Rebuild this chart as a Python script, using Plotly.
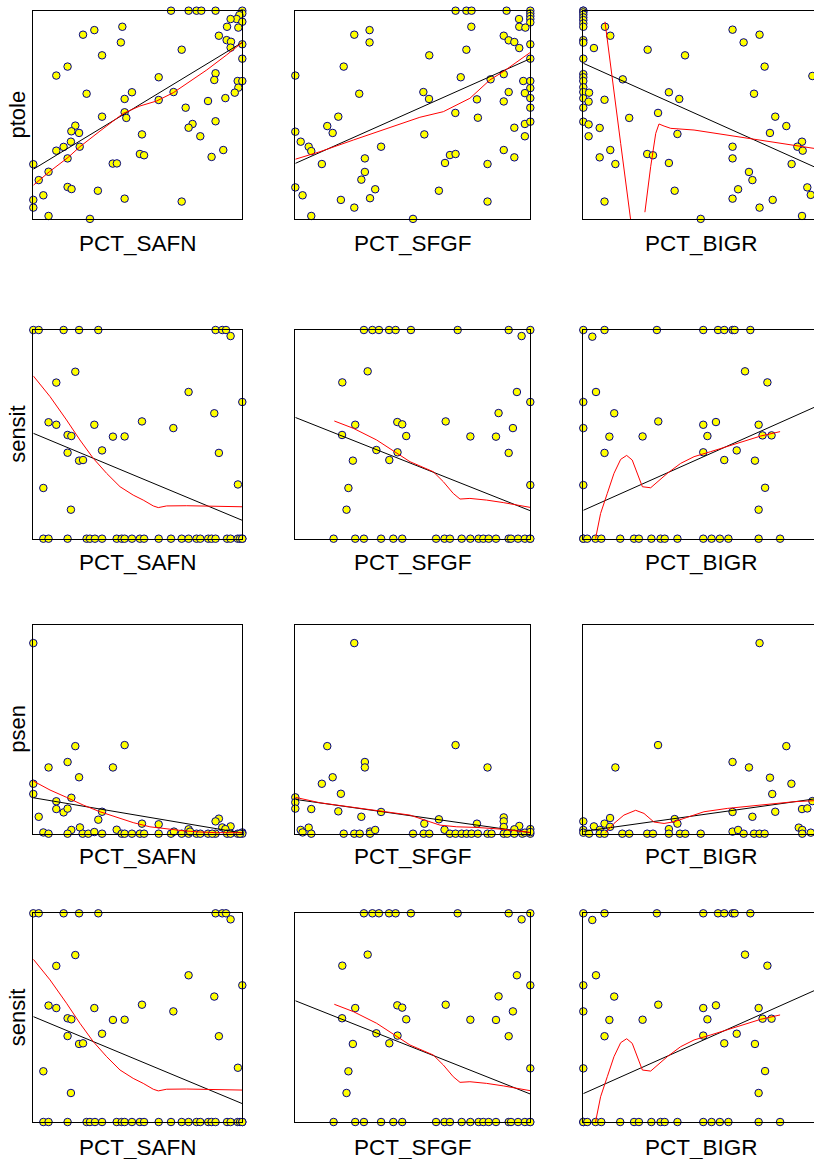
import plotly.graph_objects as go

# ---------------- data (x in percent 0-100, y as proportion 0-1) ----------------
# Row 1: ptole
ptole_safn_x = [65.9, 74.3, 78.1, 80.4, 87.2, 100, 100, 98.6, 97.3, 94.4, 100, 98.1, 92.7, 88.8, 92.5, 94.6, 94.4, 100, 100,
                42.6, 29.2, 23.8, 41.9, 71.0, 32.9, 16.4, 11.0, 60.0, 87.2, 86.6, 97.8, 100, 98.1, 96.4, 91.9, 83.6, 67.1,
                60.0, 47.2, 43.7, 25.5, 72.9, 43.7, 44.5, 32.9, 87.2, 76.2, 74.3, 79.9, 52.0, 20.1, 18.2, 21.9, 18.0, 14.5,
                11.0, 22.2, 16.4, 51.0, 53.0, 85.3, 90.9, 0, 7.3, 2.6, 38.0, 40.0, 16.4, 18.3, 30.9, 4.8, 43.7, 71.0, 0, 0,
                7.3, 27.1]
ptole_safn_y = [1.0, 1.0, 1.0, 1.0, 1.0, 1.0, 0.987, 0.979, 0.960, 0.960, 0.947, 0.919, 0.923, 0.880, 0.859, 0.851, 0.823, 0.839, 0.770,
                0.923, 0.907, 0.885, 0.848, 0.813, 0.786, 0.732, 0.689, 0.681, 0.700, 0.668, 0.663, 0.663, 0.631, 0.607, 0.581,
                0.567, 0.610, 0.572, 0.609, 0.577, 0.602, 0.535, 0.513, 0.486, 0.492, 0.470, 0.457, 0.439, 0.398, 0.407, 0.449,
                0.422, 0.414, 0.372, 0.347, 0.329, 0.348, 0.292, 0.313, 0.307, 0.299, 0.332, 0.264, 0.228, 0.188, 0.267, 0.268,
                0.155, 0.145, 0.137, 0.115, 0.099, 0.085, 0.093, 0.056, 0.016, 0.002]
ptole_safn_fit_x = [0, 100]
ptole_safn_fit_y = [0.240, 0.848]
ptole_safn_smooth_x = [0, 7.7, 16.7, 22.3, 31.9, 43.1, 51.0, 59.0, 67.0, 73.4, 83.0, 92.5, 100]
ptole_safn_smooth_y = [0.163, 0.228, 0.297, 0.348, 0.423, 0.508, 0.543, 0.567, 0.607, 0.652, 0.716, 0.788, 0.848]

ptole_sfgf_x = [68.2, 72.8, 75.0, 89.9, 100, 100, 100, 100, 100, 95.2, 95.3, 97.9, 74.9, 31.6, 25.1, 31.6, 88.7, 90.8, 93.2,
                95.3, 100, 100, 72.8, 57.0, 20.6, 0, 70.4, 83.1, 88.7, 97.0, 100, 100, 97.7, 90.8, 100, 88.7, 77.3, 100,
                54.5, 56.9, 27.2, 68.1, 77.7, 97.7, 100, 93.2, 97.7, 18.3, 13.6, 15.9, 0, 2.3, 5.7, 6.8, 54.9, 36.5, 88.7,
                93.2, 65.8, 68.2, 63.7, 81.8, 11.3, 29.6, 29.6, 28.1, 0, 3.1, 34.0, 31.8, 19.4, 25.1, 61.1, 81.8, 6.8, 50.1]
ptole_sfgf_y = [1.0, 1.0, 1.0, 1.0, 1.0, 0.987, 0.974, 0.960, 0.944, 0.960, 0.923, 0.919, 0.923, 0.907, 0.885, 0.848, 0.880, 0.858,
                0.850, 0.821, 0.839, 0.770, 0.813, 0.786, 0.732, 0.689, 0.681, 0.671, 0.696, 0.663, 0.663, 0.629, 0.605, 0.610,
                0.581, 0.565, 0.575, 0.535, 0.610, 0.577, 0.602, 0.510, 0.487, 0.457, 0.468, 0.439, 0.398, 0.492, 0.447, 0.414,
                0.420, 0.372, 0.348, 0.327, 0.407, 0.348, 0.332, 0.297, 0.308, 0.313, 0.270, 0.265, 0.265, 0.292, 0.227, 0.190,
                0.153, 0.115, 0.144, 0.101, 0.093, 0.056, 0.137, 0.085, 0.016, 0.002]
ptole_sfgf_fit_x = [0, 100]
ptole_sfgf_fit_y = [0.268, 0.770]
ptole_sfgf_smooth_x = [0, 10.5, 24.7, 38.9, 53.0, 63.0, 68.7, 74.3, 82.8, 88.5, 100]
ptole_sfgf_smooth_y = [0.288, 0.324, 0.380, 0.436, 0.489, 0.516, 0.548, 0.580, 0.668, 0.708, 0.800]

ptole_bigr_x = [0] * 19 + [2.5, 2.3, 2.3, 2.3, 4.6, 9.4, 11.7, 17.1, 9.2, 7.1, 19.9, 11.7, 7.1, 13.9, 9.2, 27.9, 44.1, 37.1,
                           41.6, 32.4, 40.8, 27.7, 30.2, 37.1, 39.6, 50.9, 64.7, 69.5, 76.4, 78.6, 74.0, 83.2, 88.0, 80.9,
                           64.7, 64.7, 94.8, 92.8, 95.1, 90.3, 71.8, 73.3, 67.1, 64.7, 76.4, 82.1, 94.8, 97.1, 98.6, 99.3]
ptole_bigr_y = [1.0, 1.0, 0.992, 0.981, 0.968, 0.955, 0.939, 0.923, 0.859, 0.847, 0.770, 0.696, 0.681, 0.663, 0.633, 0.610,
                0.580, 0.535, 0.468,
                0.607, 0.564, 0.455, 0.398, 0.821, 0.923, 0.880, 0.671, 0.573, 0.438, 0.486, 0.332, 0.297, 0.265, 0.085,
                0.813, 0.786, 0.609, 0.577, 0.510, 0.409, 0.313, 0.307, 0.270, 0.137, 0.002, 0.909, 0.848, 0.885, 0.732,
                0.602, 0.492, 0.447, 0.414, 0.348, 0.292, 0.372, 0.348, 0.329, 0.265, 0.227, 0.188, 0.144, 0.099, 0.056,
                0.093, 0.016, 0.153, 0.117, 0.687]
ptole_bigr_fit_x = [0, 100]
ptole_bigr_fit_y = [0.748, 0.252]
ptole_bigr_smooth_x = [9.4, 11.8, 16.2, 20.5, 22.0, None, 26.7, 29.2, 31.4, 32.8, 35.0, 37.9, 48.0, 62.4, 76.9, 92.8, 100]
ptole_bigr_smooth_y = [0.947, 0.732, 0.364, 0.0, -0.195, None, 0.034, 0.252, 0.412, 0.457, 0.447, 0.436, 0.428, 0.404,
                       0.380, 0.351, 0.340]

# Row 2 / Row 4: sensit
sensit_safn_x = [0, 2.6, 14.5, 21.9, 31.1, 87.2, 90.4, 92.2, 94.4,
                 4.8, 7.3, 16.4, 25.5, 27.1, 29.5, 32.9, 39.9, 42.3, 43.7, 47.2, 51.0, 53.0, 60.0, 65.9, 71.0, 74.3,
                 78.1, 79.9, 83.7, 85.3, 87.2, 92.7, 94.4, 97.8, 98.9, 100, 100,
                 20.1, 11.0, 74.3, 100, 86.6, 7.3, 11.0, 29.2, 52.0, 67.0, 16.4, 18.2, 38.1, 43.7, 16.4, 32.9, 88.8,
                 21.9, 23.8, 4.8, 97.9, 18.0]
sensit_safn_y = [1.0, 1.0, 1.0, 1.0, 1.0, 1.0, 1.0, 1.0, 0.971,
                 0, 0, 0, 0, 0, 0, 0, 0, 0, 0, 0, 0, 0, 0, 0, 0, 0, 0, 0, 0, 0, 0, 0, 0, 0, 0, 0, 0,
                 0.800, 0.748, 0.703, 0.655, 0.601, 0.558, 0.546, 0.546, 0.562, 0.530, 0.497, 0.492, 0.489, 0.490,
                 0.412, 0.423, 0.411, 0.374, 0.377, 0.243, 0.260, 0.139]
sensit_safn_fit_x = [0, 100]
sensit_safn_fit_y = [0.505, 0.088]
sensit_safn_smooth_x = [0, 8.0, 15.9, 22.3, 28.7, 35.1, 41.5, 47.8, 52.6, 57.4, 59.8, 63.8, 73.4, 86.1, 100]
sensit_safn_smooth_y = [0.780, 0.681, 0.569, 0.473, 0.385, 0.313, 0.249, 0.209, 0.185, 0.157, 0.149, 0.157, 0.158,
                        0.157, 0.153]

sensit_sfgf_x = [29.2, 32.8, 35.6, 39.9, 42.7, 49.2, 69.1, 90.8, 100, 96.3,
                 16.3, 25.5, 29.2, 36.5, 41.7, 45.5, 59.9, 63.5, 65.8, 70.8, 74.5, 78.0, 80.0, 82.3, 85.4, 90.8,
                 91.8, 94.8, 97.7, 99.9, 100,
                 30.8, 20.0, 94.3, 100, 86.5, 25.5, 43.4, 45.5, 64.0, 92.6, 19.9, 47.2, 74.5, 85.4, 34.5, 43.5, 90.8,
                 40.0, 24.5, 22.6, 100, 21.8]
sensit_sfgf_y = [1.0, 1.0, 1.0, 1.0, 1.0, 1.0, 1.0, 1.0, 1.0, 0.971,
                 0, 0, 0, 0, 0, 0, 0, 0, 0, 0, 0, 0, 0, 0, 0, 0, 0, 0, 0, 0, 0,
                 0.802, 0.749, 0.703, 0.655, 0.602, 0.546, 0.559, 0.548, 0.562, 0.530, 0.497, 0.492, 0.490, 0.489,
                 0.425, 0.414, 0.411, 0.377, 0.374, 0.243, 0.257, 0.139]
sensit_sfgf_fit_x = [0, 100]
sensit_sfgf_fit_y = [0.581, 0.134]
sensit_sfgf_smooth_x = [16.6, 24.7, 34.6, 43.1, 48.8, 58.7, 63.0, 67.2, 70.1, 74.3, 81.4, 88.5, 100]
sensit_sfgf_smooth_y = [0.564, 0.529, 0.473, 0.409, 0.369, 0.321, 0.273, 0.217, 0.190, 0.193, 0.185, 0.173, 0.150]

sensit_bigr_x = [0, 9.2, 31.9, 52.0, 58.4, 61.1, 64.7, 65.6, 72.4, 3.9,
                 0, 0, 1.7, 5.3, 7.8, 16.0, 22.0, 24.1, 29.5, 33.5, 35.3, 40.8, 52.0, 55.6, 59.2, 62.9, 76.0, 85.3,
                 70.1, 79.8, 5.5, 0, 13.4, 0, 32.5, 52.0, 57.5, 76.0, 11.3, 25.7, 53.8, 77.7, 81.6, 9.2, 52.0, 66.5,
                 61.1, 74.4, 0, 78.8, 76.0]
sensit_bigr_y = [1.0, 1.0, 1.0, 1.0, 1.0, 1.0, 1.0, 1.0, 1.0, 0.968,
                 0, 0, 0, 0, 0, 0, 0, 0, 0, 0, 0, 0, 0, 0, 0, 0, 0, 0,
                 0.802, 0.749, 0.703, 0.655, 0.601, 0.530, 0.562, 0.546, 0.559, 0.546, 0.489, 0.490, 0.492, 0.495,
                 0.495, 0.411, 0.414, 0.423, 0.377, 0.374, 0.257, 0.244, 0.139]
sensit_bigr_fit_x = [0, 100]
sensit_bigr_fit_y = [0.136, 0.629]
sensit_bigr_smooth_x = [5.3, 7.5, 10.4, 13.3, 16.2, 18.8, 21.2, 23.4, 25.6, 29.2, 32.1, 36.4, 42.2, 48.0, 55.2, 62.4,
                        69.7, 76.9, 85.3]
sensit_bigr_smooth_y = [0.0, 0.121, 0.217, 0.313, 0.380, 0.399, 0.377, 0.313, 0.249, 0.244, 0.273, 0.313, 0.361, 0.393,
                        0.417, 0.441, 0.465, 0.492, 0.513]

# Row 3: psen
psen_safn_x = [0, 20.1, 43.7, 16.4, 7.3, 38.1, 21.9, 0, 0, 18.2, 11.0, 11.0, 14.5, 16.4, 32.9, 31.1, 2.6, 52.0, 60.0,
               88.8, 87.2, 90.4, 94.4, 91.9, 74.3, 22.3, 18.2, 16.4, 4.8, 7.3, 23.6, 26.3, 29.2, 32.9, 39.9, 42.3,
               43.7, 47.2, 51.0, 53.0, 60.0, 65.9, 67.3, 71.0, 74.3, 78.1, 79.9, 83.6, 87.2, 92.7, 94.4, 97.8, 100,
               100, 98.9, 85.6, 75.0]
psen_safn_y = [0.912, 0.419, 0.424, 0.343, 0.317, 0.317, 0.270, 0.239, 0.190, 0.172, 0.155, 0.118, 0.102, 0.120, 0.105,
               0.067, 0.081, 0.048, 0.045, 0.072, 0.059, 0.030, 0.035, 0.022, 0.021, 0.030, 0.018, 0, 0.006, 0, 0, 0,
               0.008, 0, 0.019, 0, 0, 0, 0, 0, 0, 0, 0.010, 0, 0, 0, 0, 0, 0, 0, 0, 0, 0.006, 0, 0, 0, 0.010]
psen_safn_fit_x = [0, 100]
psen_safn_fit_y = [0.172, 0.003]
psen_safn_smooth_x = [0, 8.0, 15.9, 23.9, 31.9, 39.9, 47.8, 55.8, 63.8, 71.8, 79.7, 87.7, 100]
psen_safn_smooth_y = [0.252, 0.209, 0.174, 0.137, 0.105, 0.078, 0.053, 0.033, 0.022, 0.014, 0.008, 0.005, 0.005]

psen_sfgf_x = [25.1, 13.6, 68.2, 29.6, 29.6, 81.8, 15.9, 11.3, 19.4, 0, 0, 0, 6.8, 18.3, 28.1, 36.5, 61.1, 54.9, 77.3,
               88.7, 88.7, 95.3, 63.5, 93.2, 100, 2.3, 5.7, 6.8, 3.1, 20.6, 25.1, 27.4, 31.8, 31.8, 34.0, 50.1, 54.6,
               57.0, 65.8, 68.2, 70.8, 72.9, 75.0, 77.7, 81.8, 83.5, 88.7, 88.7, 90.2, 93.2, 96.6, 97.7, 100, 100]
psen_sfgf_y = [0.912, 0.419, 0.424, 0.343, 0.317, 0.317, 0.270, 0.239, 0.191, 0.174, 0.150, 0.120, 0.118, 0.107, 0.081,
               0.104, 0.069, 0.048, 0.048, 0.078, 0.059, 0.037, 0.019, 0.021, 0.022, 0.018, 0.029, 0, 0.006, 0, 0, 0,
               0.010, 0, 0.018, 0, 0, 0, 0, 0, 0, 0, 0, 0, 0, 0, 0.032, 0, 0, 0, 0, 0.005, 0, 0.008]
psen_sfgf_fit_x = [0, 100]
psen_sfgf_fit_y = [0.164, 0.005]
psen_sfgf_smooth_x = [0, 10.5, 24.7, 38.9, 48.8, 55.9, 61.6, 68.7, 77.2, 88.5, 100]
psen_sfgf_smooth_y = [0.174, 0.148, 0.126, 0.104, 0.089, 0.062, 0.041, 0.033, 0.030, 0.021, 0.006]

psen_bigr_x = [76.4, 32.4, 88.0, 64.7, 71.8, 13.9, 80.9, 90.2, 81.9, 99.3, 94.8, 97.1, 83.2, 64.7, 73.3, 39.6, 40.8,
               11.6, 9.2, 4.6, 0, 0, 0, 2.5, 7.1, 7.1, 9.2, 11.6, 16.9, 19.9, 27.7, 30.2, 37.1, 37.1, 41.9, 44.2,
               50.9, 64.7, 67.1, 69.5, 74.0, 76.4, 78.6, 93.4, 94.9, 94.9, 98.6]
psen_bigr_y = [0.912, 0.424, 0.419, 0.343, 0.317, 0.317, 0.268, 0.239, 0.190, 0.156, 0.118, 0.121, 0.105, 0.104, 0.081,
               0.070, 0.048, 0.075, 0.048, 0.035, 0.059, 0.018, 0.005, 0, 0.018, 0, 0, 0.033, 0, 0, 0, 0, 0.022, 0,
               0, 0, 0, 0.010, 0.018, 0, 0, 0, 0, 0.029, 0.018, 0, 0.005]
psen_bigr_fit_x = [0, 100]
psen_bigr_fit_y = [0.011, 0.166]
psen_bigr_smooth_x = [9.7, 13.3, 17.6, 22.7, 26.3, 30.6, 35.0, 39.3, 43.6, 52.3, 62.4, 76.9, 91.3, 100]
psen_bigr_smooth_y = [0.005, 0.049, 0.089, 0.112, 0.097, 0.056, 0.049, 0.057, 0.073, 0.105, 0.121, 0.137, 0.153, 0.158]

row_vars = ["ptole", "sensit", "psen", "sensit"]
col_vars = ["PCT_SAFN", "PCT_SFGF", "PCT_BIGR"]

panels = {
    ("ptole", "PCT_SAFN"): (ptole_safn_x, ptole_safn_y, ptole_safn_fit_x, ptole_safn_fit_y, ptole_safn_smooth_x, ptole_safn_smooth_y),
    ("ptole", "PCT_SFGF"): (ptole_sfgf_x, ptole_sfgf_y, ptole_sfgf_fit_x, ptole_sfgf_fit_y, ptole_sfgf_smooth_x, ptole_sfgf_smooth_y),
    ("ptole", "PCT_BIGR"): (ptole_bigr_x, ptole_bigr_y, ptole_bigr_fit_x, ptole_bigr_fit_y, ptole_bigr_smooth_x, ptole_bigr_smooth_y),
    ("sensit", "PCT_SAFN"): (sensit_safn_x, sensit_safn_y, sensit_safn_fit_x, sensit_safn_fit_y, sensit_safn_smooth_x, sensit_safn_smooth_y),
    ("sensit", "PCT_SFGF"): (sensit_sfgf_x, sensit_sfgf_y, sensit_sfgf_fit_x, sensit_sfgf_fit_y, sensit_sfgf_smooth_x, sensit_sfgf_smooth_y),
    ("sensit", "PCT_BIGR"): (sensit_bigr_x, sensit_bigr_y, sensit_bigr_fit_x, sensit_bigr_fit_y, sensit_bigr_smooth_x, sensit_bigr_smooth_y),
    ("psen", "PCT_SAFN"): (psen_safn_x, psen_safn_y, psen_safn_fit_x, psen_safn_fit_y, psen_safn_smooth_x, psen_safn_smooth_y),
    ("psen", "PCT_SFGF"): (psen_sfgf_x, psen_sfgf_y, psen_sfgf_fit_x, psen_sfgf_fit_y, psen_sfgf_smooth_x, psen_sfgf_smooth_y),
    ("psen", "PCT_BIGR"): (psen_bigr_x, psen_bigr_y, psen_bigr_fit_x, psen_bigr_fit_y, psen_bigr_smooth_x, psen_bigr_smooth_y),
}

# ---------------- layout ----------------
W, H = 814, 1159
col_px = [(33.3, 242.3), (295.3, 530.3), (583.3, 814.0)]
row_px = [(10.7, 219.3), (330.0, 538.7), (624.7, 833.7), (913.3, 1122.0)]
xlabel_y_px = [243.5, 562.0, 856.5, 1147.0]
xlabel_x_px = [137.8, 412.8, 701.0]
ylabel_x_px = 17.5

FONT = "Liberation Sans, Arial, sans-serif"
fig = go.Figure()
layout = dict(width=W, height=H, margin=dict(l=0, r=0, t=0, b=0, pad=0),
              paper_bgcolor="white", plot_bgcolor="white", showlegend=False,
              font=dict(family=FONT, size=22, color="black"))
annotations = []

k = 0
for r, rv in enumerate(row_vars):
    for c, cv in enumerate(col_vars):
        k += 1
        xa = "xaxis" if k == 1 else f"xaxis{k}"
        ya = "yaxis" if k == 1 else f"yaxis{k}"
        xref = "x" if k == 1 else f"x{k}"
        yref = "y" if k == 1 else f"y{k}"
        x0, x1 = col_px[c]
        y0, y1 = row_px[r]
        layout[xa] = dict(domain=[x0 / W, x1 / W], range=[0, 100], anchor=yref,
                          showticklabels=False, ticks="", showgrid=False, zeroline=False,
                          showline=True, linecolor="black", linewidth=1, mirror=True, fixedrange=True)
        layout[ya] = dict(domain=[1 - y1 / H, 1 - y0 / H], range=[0, 1], anchor=xref,
                          showticklabels=False, ticks="", showgrid=False, zeroline=False,
                          showline=True, linecolor="black", linewidth=1, mirror=(c < 2), fixedrange=True)
        px_, py_, fx, fy, sx, sy = panels[(rv, cv)]
        fig.add_trace(go.Scatter(x=px_, y=py_, xaxis=xref, yaxis=yref, mode="markers", cliponaxis=False,
                                 marker=dict(size=7.5, color="#FFFF00", line=dict(color="#00008B", width=1))))
        fig.add_trace(go.Scatter(x=fx, y=fy, xaxis=xref, yaxis=yref, mode="lines",
                                 line=dict(color="black", width=1)))
        fig.add_trace(go.Scatter(x=sx, y=sy, xaxis=xref, yaxis=yref, mode="lines", connectgaps=False,
                                 line=dict(color="#FF0000", width=1)))
        annotations.append(dict(text=cv, xref="paper", yref="paper", x=xlabel_x_px[c] / W,
                                y=1 - xlabel_y_px[r] / H, xanchor="center", yanchor="middle",
                                showarrow=False, font=dict(family=FONT, size=22.5, color="black")))
    annotations.append(dict(text=rv, xref="paper", yref="paper", x=ylabel_x_px / W,
                            y=1 - (row_px[r][0] + row_px[r][1]) / 2 / H, xanchor="center", yanchor="middle",
                            textangle=-90, showarrow=False, font=dict(family=FONT, size=22, color="black")))

layout["annotations"] = annotations
fig.update_layout(**layout)
fig.write_html("out.html", config={"displayModeBar": False},
               post_script="document.body.style.margin='0';document.body.style.padding='0';"
                           "document.body.style.overflow='hidden';")
